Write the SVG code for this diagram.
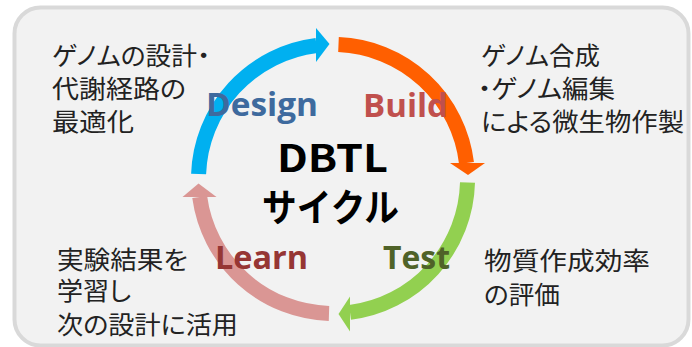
<svg xmlns="http://www.w3.org/2000/svg" width="692" height="347" viewBox="0 0 692 347">
<style>
.jp{font-family:"Noto Sans CJK JP","Noto Sans",sans-serif;font-size:25px;fill:#222;font-feature-settings:"palt"}
.lbl{font-family:"Open Sans","Liberation Sans",sans-serif;font-weight:700;font-size:32px}
.ctr{font-family:"Noto Sans CJK JP","Noto Sans",sans-serif;font-weight:700;font-size:38px;fill:#000}
.arc{fill:none;stroke-width:15}
</style>
<rect x="14.5" y="7.5" width="674" height="338" rx="26" fill="#f2f2f2" stroke="#d9d9d9" stroke-width="4"/>
<g id="connectors">
  <g id="arrow-design">
    <path class="arc" stroke="#00b0f0" d="M198.6,174 A134.5,134.5 0 0 1 316.5,45.5"/>
    <polygon fill="#00b0f0" points="316,28 329.5,44 316,62"/>
  </g>
  <g id="arrow-build">
    <path class="arc" stroke="#ff5f00" d="M338.5,44.6 A134.5,134.5 0 0 1 466.5,163"/>
    <polygon fill="#ff5f00" points="450,163 485,163 468,175"/>
  </g>
  <g id="arrow-test">
    <path class="arc" stroke="#92d050" d="M467.5,182.5 A134.5,134.5 0 0 1 350,312.4"/>
    <polygon fill="#92d050" points="350,296.5 350,331.5 338.5,314"/>
  </g>
  <g id="arrow-learn">
    <path class="arc" stroke="#da9694" d="M329,313.4 A134.5,134.5 0 0 1 199.7,197"/>
    <polygon fill="#da9694" points="182.5,197 216.5,197 198.5,183.5"/>
  </g>
</g>
<g id="center">
  <text class="ctr" x="277" y="172" textLength="111" lengthAdjust="spacingAndGlyphs">DBTL</text>
  <text class="ctr" x="262" y="221" textLength="137" lengthAdjust="spacingAndGlyphs">サイクル</text>
</g>
<g id="design">
  <text class="lbl" fill="#3e6a9e" x="206" y="116" textLength="112" lengthAdjust="spacingAndGlyphs">Design</text>
  <g class="jp">
    <text x="52" y="65" textLength="158" lengthAdjust="spacingAndGlyphs">ゲノムの設計・</text>
    <text x="52" y="98" textLength="134" lengthAdjust="spacingAndGlyphs">代謝経路の</text>
    <text x="52" y="131" textLength="82" lengthAdjust="spacingAndGlyphs">最適化</text>
  </g>
</g>
<g id="build">
  <text class="lbl" fill="#c0504d" x="363" y="117" textLength="85" lengthAdjust="spacingAndGlyphs">Build</text>
  <g class="jp">
    <text x="481" y="65" textLength="119" lengthAdjust="spacingAndGlyphs">ゲノム合成</text>
    <text x="478" y="98" textLength="137" lengthAdjust="spacingAndGlyphs">・ゲノム編集</text>
    <text x="481" y="131" textLength="203" lengthAdjust="spacingAndGlyphs">による微生物作製</text>
  </g>
</g>
<g id="test">
  <text class="lbl" fill="#4f6228" x="383" y="269" textLength="67" lengthAdjust="spacingAndGlyphs">Test</text>
  <g class="jp">
    <text x="484" y="270" textLength="166" lengthAdjust="spacingAndGlyphs">物質作成効率</text>
    <text x="484" y="304" textLength="76" lengthAdjust="spacingAndGlyphs">の評価</text>
  </g>
</g>
<g id="learn">
  <text class="lbl" fill="#963634" x="215" y="269" textLength="93" lengthAdjust="spacingAndGlyphs">Learn</text>
  <g class="jp">
    <text x="57" y="269" textLength="131" lengthAdjust="spacingAndGlyphs">実験結果を</text>
    <text x="57" y="300" textLength="74" lengthAdjust="spacingAndGlyphs">学習し</text>
    <text x="57" y="334" textLength="181" lengthAdjust="spacingAndGlyphs">次の設計に活用</text>
  </g>
</g>
</svg>
